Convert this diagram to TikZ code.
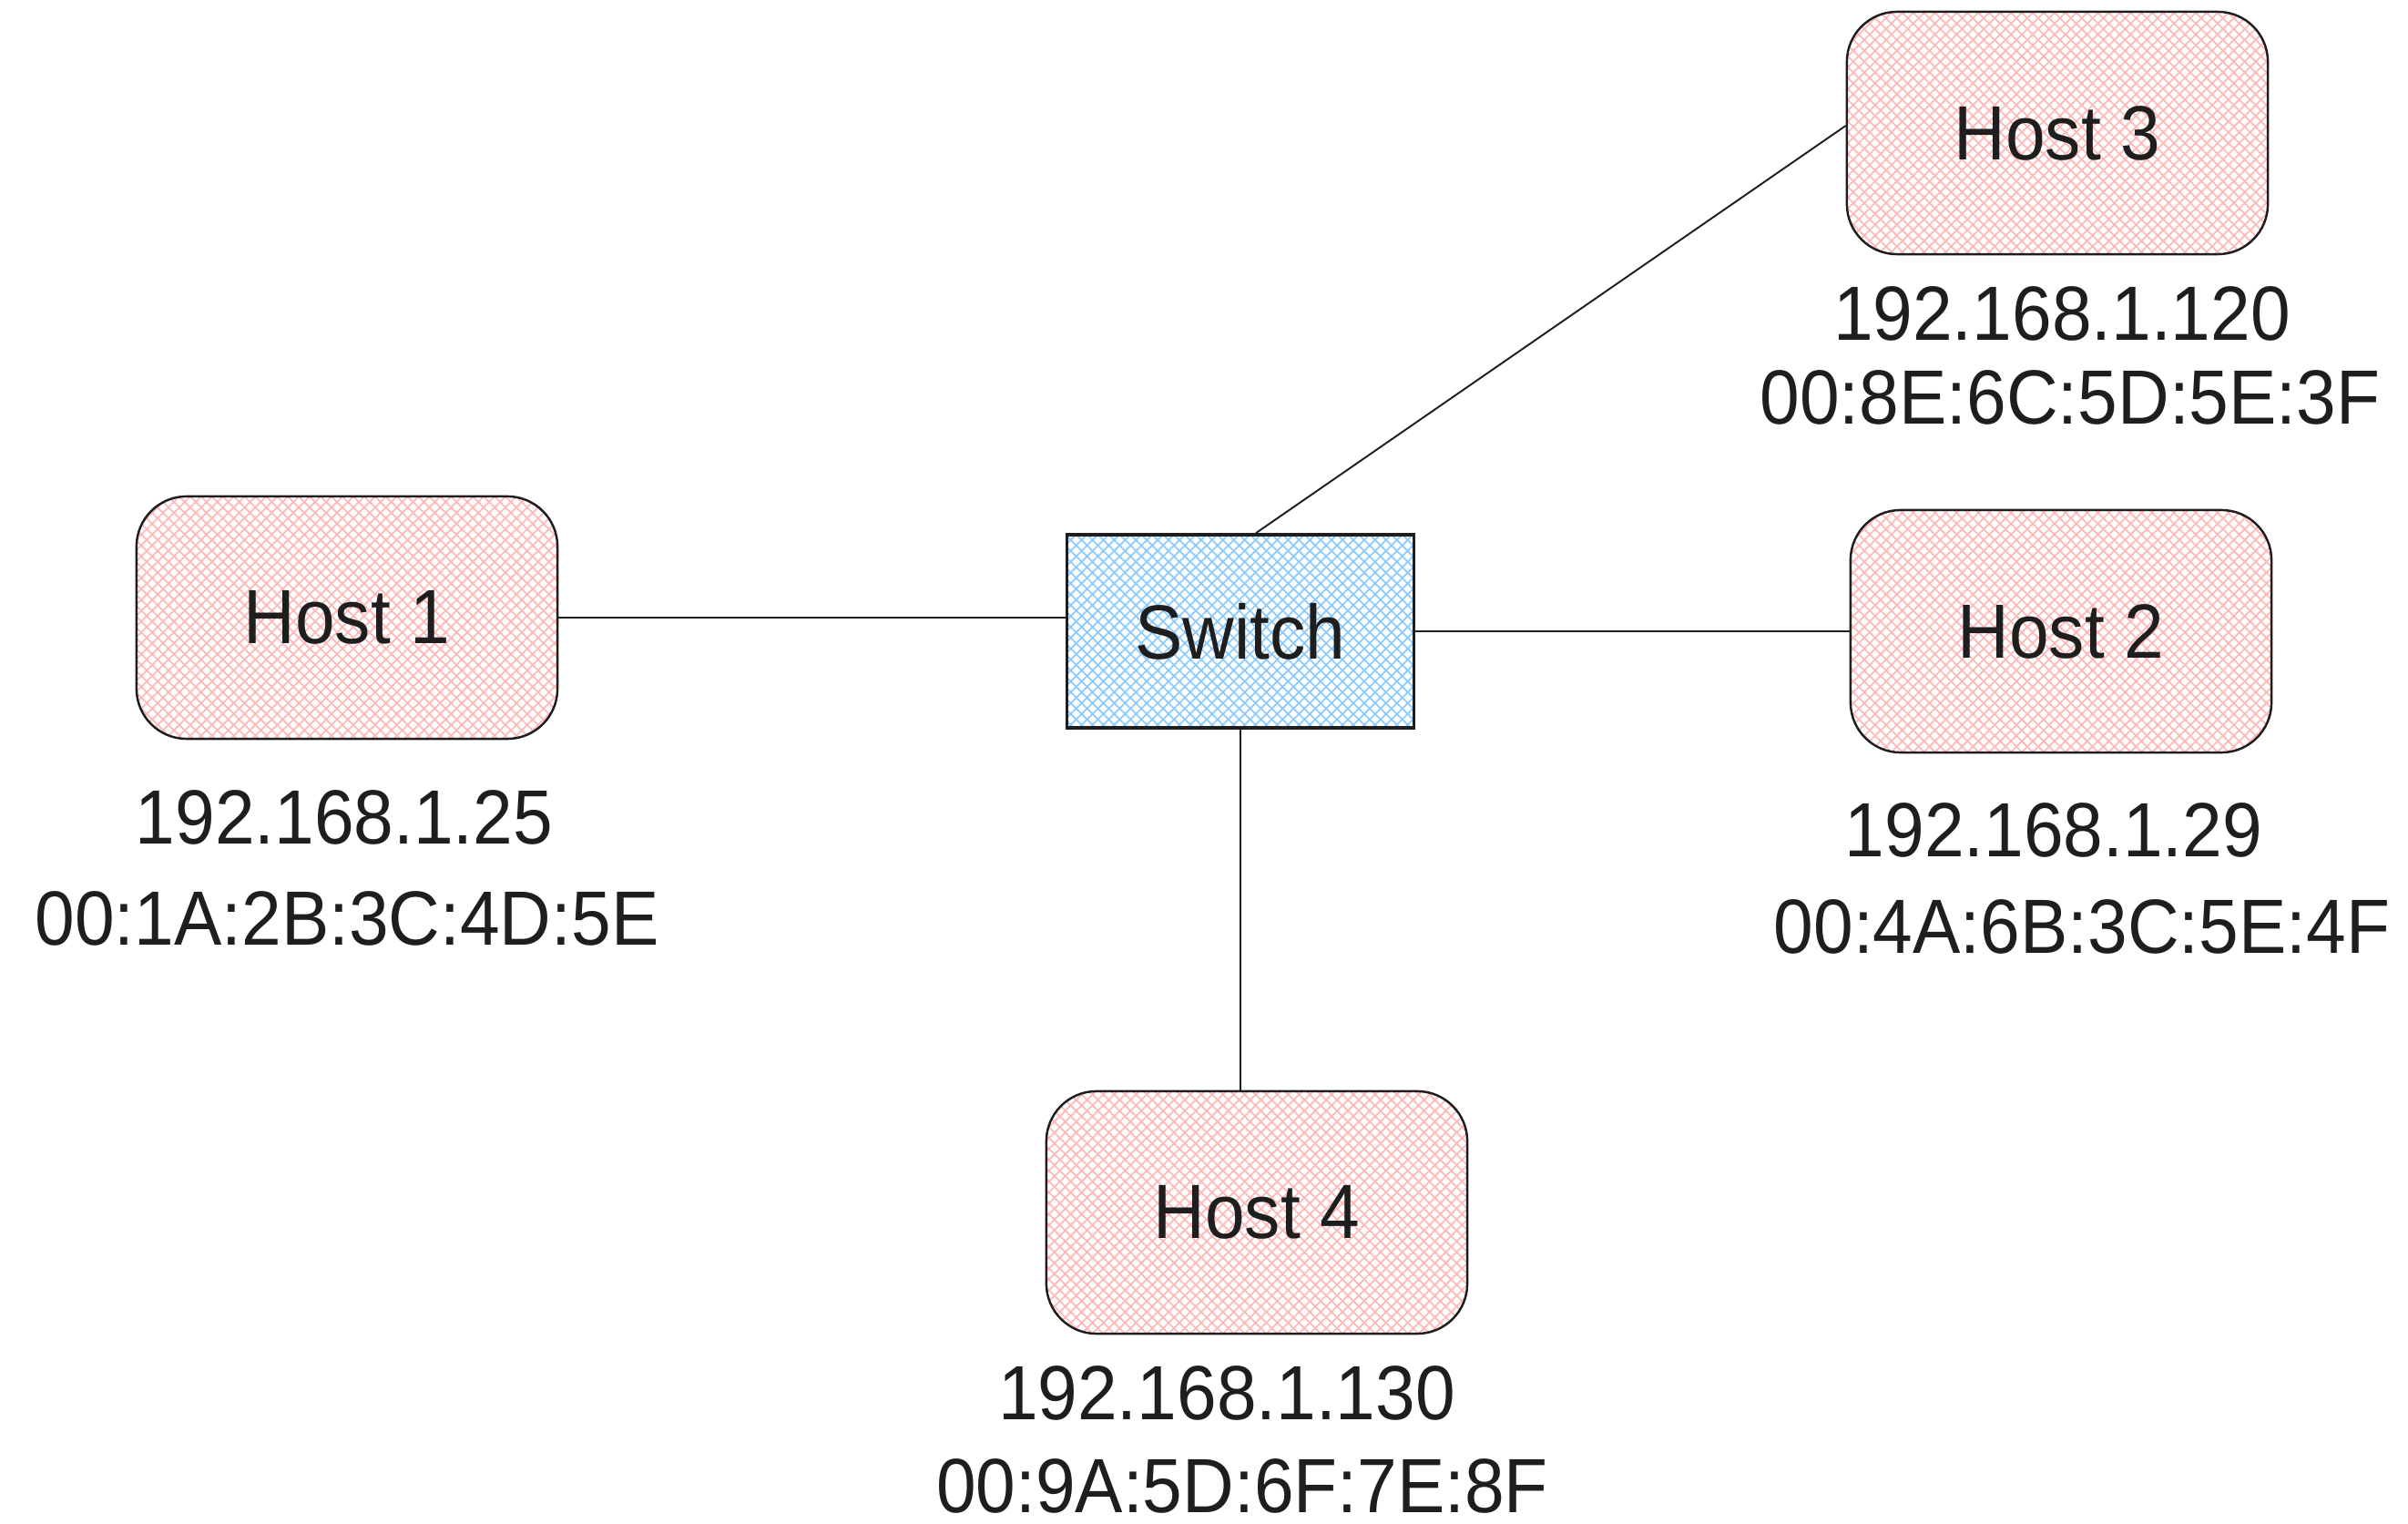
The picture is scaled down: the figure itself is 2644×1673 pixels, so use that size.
\documentclass[tikz,border=0pt]{standalone}
\usepackage{fontspec}
\setmainfont[FakeStretch=0.93]{Liberation Sans}
\usetikzlibrary{patterns.meta}
\definecolor{hostpink}{HTML}{FFB8B8}
\definecolor{swblue}{HTML}{8CCBFF}
\definecolor{ink}{HTML}{1E1E1E}
\begin{document}
\begin{tikzpicture}[x=0.01cm,y=-0.01cm,
  hatchfill/.style={pattern={Hatch[angle=45,distance=2.4pt,line width=0.5pt]}},
  host/.style={hatchfill, pattern color=hostpink, draw=ink, line width=0.7pt,
    rounded corners=0.55cm, minimum width=4.62cm, minimum height=2.66cm,
    inner sep=0pt, text=ink, font=\fontsize{24}{28}\selectfont},
  switchbox/.style={hatchfill, pattern color=swblue, draw=ink, line width=1pt,
    minimum width=3.81cm, minimum height=2.12cm,
    inner sep=0pt, text=ink, font=\fontsize{24}{28}\selectfont},
  addr/.style={text=ink, anchor=base, inner sep=0pt,
    font=\fontsize{24}{28}\selectfont},
  link/.style={draw=ink, line width=0.55pt}]
\useasboundingbox (0,0) rectangle (2644,1673);

\node[host] (h1) at (381,678) {Host 1};
\node[host] (h2) at (2263,693) {Host 2};
\node[host] (h3) at (2259,146) {Host 3};
\node[host] (h4) at (1380,1331) {Host 4};
\node[switchbox] (sw) at (1362,693) {Switch};

\node[addr] (ip1) at (378,926) {192.168.1.25};
\node[addr] (mac1) at (381,1037) {00:1A:2B:3C:4D:5E};
\node[addr] (ip2) at (2255,941) {192.168.1.29};
\node[addr] (mac2) at (2286,1047) {00:4A:6B:3C:5E:4F};
\node[addr] (ip3) at (2264,374) {192.168.1.120};
\node[addr] (mac3) at (2273,466) {00:8E:6C:5D:5E:3F};
\node[addr] (ip4) at (1347,1558) {192.168.1.130};
\node[addr] (mac4) at (1364,1660) {00:9A:5D:6F:7E:8F};

\draw[link] (h1.east) -- (h1.east -| sw.west);
\draw[link] (sw.east) -- (h2.west);
\draw[link] ([xshift=0.17cm]sw.north) -- ([yshift=0.08cm]h3.west);
\draw[link] (sw.south) -- (sw.south |- h4.north);
\end{tikzpicture}
\end{document}
